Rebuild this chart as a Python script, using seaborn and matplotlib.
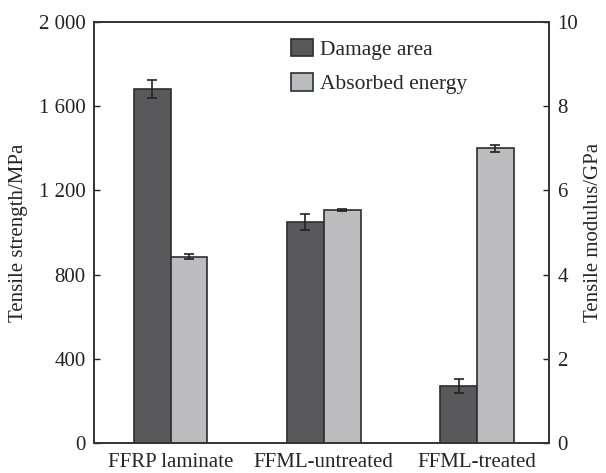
import numpy as np
import pandas as pd
import matplotlib
matplotlib.use("Agg")
import matplotlib.pyplot as plt
from matplotlib.patches import Patch
import seaborn as sns

categories = ["FFRP laminate", "FFML-untreated", "FFML-treated"]
series = ["Damage area", "Absorbed energy"]
strength = [1680, 1050, 272]          # MPa, left axis
strength_err = [43, 36, 33]
modulus = [4.42, 5.53, 7.0]           # GPa, right axis
modulus_err = [0.06, 0.03, 0.09]
left_ticks = [0, 400, 800, 1200, 1600, 2000]
left_ticklabels = ["0", "400", "800", "1 200", "1 600", "2 000"]
right_ticks = [0, 2, 4, 6, 8, 10]

dark = "#59595c"
light = "#bbbcbf"
edge = "#2e2e2e"

sns.set_style("ticks")
plt.rcParams["font.family"] = ["Liberation Serif", "DejaVu Serif"]
plt.rcParams["font.size"] = 15

df_left = pd.DataFrame({"cat": categories * 2,
                        "series": [series[0]] * 3 + [series[1]] * 3,
                        "val": list(strength) + [np.nan] * 3})
df_right = pd.DataFrame({"cat": categories * 2,
                         "series": [series[0]] * 3 + [series[1]] * 3,
                         "val": [np.nan] * 3 + list(modulus)})

fig = plt.figure(figsize=(6.06, 4.73), dpi=100)
ax = fig.add_subplot(111)
fig.subplots_adjust(left=94/606, right=549/606, top=1-22/473, bottom=1-443/473)
ax2 = ax.twinx()

pal = {series[0]: dark, series[1]: light}
sns.barplot(data=df_left, x="cat", y="val", hue="series", hue_order=series,
            order=categories, palette=pal, ax=ax, width=0.48, gap=0,
            errorbar=None, edgecolor=edge, linewidth=1.2, legend=False)
sns.barplot(data=df_right, x="cat", y="val", hue="series", hue_order=series,
            order=categories, palette=pal, ax=ax2, width=0.48, gap=0,
            errorbar=None, edgecolor=edge, linewidth=1.2, legend=False)

# error bars at bar centres
def centers(a):
    ps = [p for p in a.patches if np.isfinite(p.get_height()) and p.get_height() > 0]
    ps.sort(key=lambda p: p.get_x())
    return [p.get_x() + p.get_width() / 2 for p in ps]

xl = centers(ax)
xr = centers(ax2)
ax.errorbar(xl, strength, yerr=strength_err, fmt="none", ecolor="#222222",
            elinewidth=1.2, capsize=3.6, capthick=1.2)
ax2.errorbar(xr, modulus, yerr=modulus_err, fmt="none", ecolor="#222222",
             elinewidth=1.2, capsize=3.6, capthick=1.2)

for a in (ax, ax2):
    a.set_xlim(-0.5, 2.47)
    for s in a.spines.values():
        s.set_visible(True)
        s.set_color("#333333")
        s.set_linewidth(1.2)

ax.set_ylim(0, 2000)
ax.set_yticks(left_ticks)
ax.set_yticklabels(left_ticklabels)
ax2.set_ylim(0, 10)
ax2.set_yticks(right_ticks)

ax.set_xlabel("")
ax2.set_xlabel("")
ax.set_ylabel("Tensile strength/MPa", fontsize=15, labelpad=8)
ax2.set_ylabel("Tensile modulus/GPa", fontsize=15, labelpad=4)

ax.tick_params(axis="x", length=0, pad=7, labelsize=15)
ax.tick_params(axis="y", direction="in", length=4, width=1, pad=6, labelsize=15, colors="#222222")
ax2.tick_params(axis="y", direction="in", length=4, width=1, pad=6, labelsize=15, colors="#222222")

handles = [Patch(facecolor=dark, edgecolor=edge, linewidth=1.2, label=series[0]),
           Patch(facecolor=light, edgecolor=edge, linewidth=1.2, label=series[1])]
ax2.legend(handles=handles, loc="upper left", bbox_to_anchor=(291/606, 1-39/473),
           bbox_transform=fig.transFigure, frameon=False, fontsize=15.5,
           handlelength=1.0, handleheight=0.85, handletextpad=0.35,
           labelspacing=0.62, borderpad=0, borderaxespad=0)

fig.savefig("out.png", dpi=100)
